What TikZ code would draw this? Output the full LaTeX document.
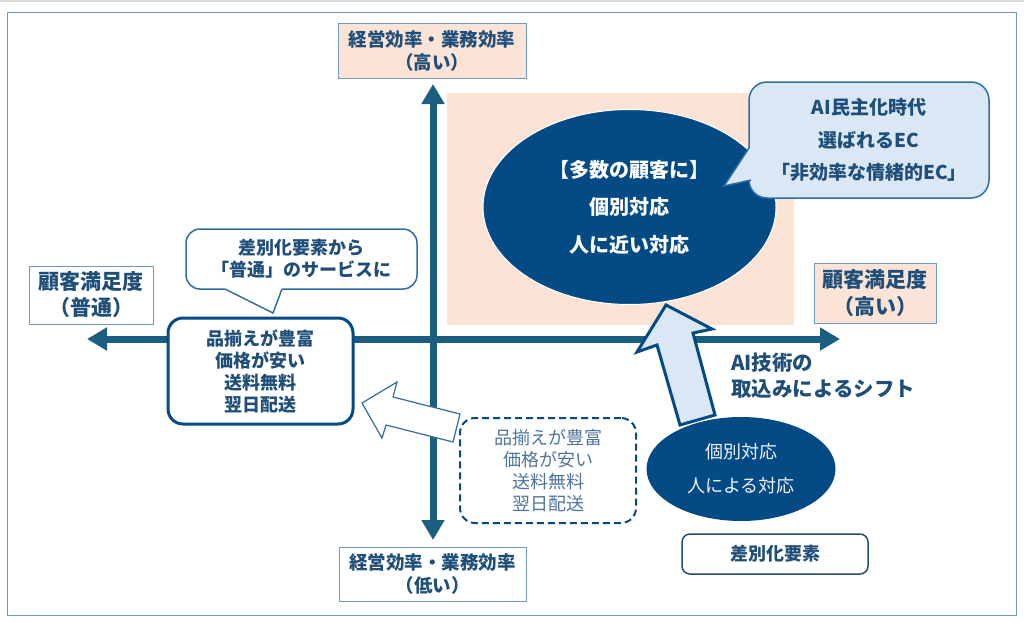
\documentclass[tikz,border=0pt]{standalone}
\usepackage{fontspec}
\setmainfont{Noto Sans CJK JP}
\usetikzlibrary{calc,positioning,arrows.meta,shapes.geometric}
\definecolor{axisblue}{RGB}{27,94,128}
\definecolor{navy}{RGB}{4,75,133}
\definecolor{textblue}{RGB}{31,78,121}
\definecolor{peach}{RGB}{251,228,214}
\definecolor{lightblue}{RGB}{218,232,245}
\definecolor{framecol}{RGB}{109,154,198}
\definecolor{lineblue}{RGB}{47,110,165}
\definecolor{mutedblue}{RGB}{78,116,156}

\begin{document}
\begin{tikzpicture}[x=1pt,y=-1pt,
  axis/.style={line width=7pt,draw=axisblue,{Triangle[length=20pt,width=22pt]}-{Triangle[length=20pt,width=22pt]}},
  labelbox/.style={draw=framecol,line width=1pt,text=textblue,align=center,inner sep=0pt,
    font=\fontsize{18.5}{23}\selectfont\bfseries},
  callout/.style={draw=lineblue,line width=1.5pt,rounded corners=14pt,text=textblue,align=center,inner sep=0pt},
  blockarrow/.style={draw=lineblue,line width=1.2pt,line join=miter}]
\useasboundingbox (0,0) rectangle (1024,621);
% frame and highlighted quadrant
\draw[black!15,line width=1.5pt] (0,0.75) -- (1024,0.75);
\draw[framecol,line width=1pt] (7,12) rectangle (1016,615);
\fill[peach] (447,93) rectangle (794,325);
% define axis end points
\coordinate (xlo) at (87,339);
\coordinate (xhi) at (840,339);
\coordinate (ylo) at (433,540);
\coordinate (yhi) at (433,84);
\draw[axis] (xlo) -- (xhi);
\draw[axis] (ylo) -- (yhi);
% axis labels
\node[labelbox,fill=peach,minimum width=188,minimum height=55] (effhigh) at (432,50.5) {経営効率・業務効率\\（高い）};
\node[labelbox,fill=white,minimum width=187,minimum height=54] (efflow) at (432.5,574) {経営効率・業務効率\\（低い）};
\node[labelbox,fill=white,minimum width=124,minimum height=58,font=\fontsize{21}{26}\selectfont\bfseries] (satnorm) at (91,295) {顧客満足度\\（普通）};
\node[labelbox,fill=peach,minimum width=122,minimum height=60,font=\fontsize{21}{27}\selectfont\bfseries] (sathigh) at (875,293) {顧客満足度\\（高い）};
% left side: common services
\node[draw=navy,line width=3pt,rounded corners=15pt,fill=white,minimum width=185,minimum height=106,
  align=center,inner sep=0pt,text=textblue,font=\fontsize{18}{22}\selectfont\bfseries] (common) at (260.5,371) {品揃えが豊富\\価格が安い\\送料無料\\翌日配送};
\node[draw=navy,line width=2pt,dash pattern=on 7pt off 4pt,rounded corners=15pt,minimum width=176,minimum height=105,
  align=center,inner sep=0pt,text=mutedblue,font=\fontsize{18}{22}\selectfont] (former) at (548,470.5) {品揃えが豊富\\価格が安い\\送料無料\\翌日配送};
\draw[blockarrow,fill=white] (362,403) -- (397,382) -- (393,397) -- (460,414) -- (453,442) -- (386,425) -- (382,438) -- cycle;
% callout above the left box
\node[callout,fill=white,minimum width=231,minimum height=60,font=\fontsize{18}{22}\selectfont\bfseries] (todefault) at (301.5,259) {差別化要素から\\「普通」のサービスに};
\fill[white] (225,289) -- (273,313) -- (282,289) -- (282,285) -- (225,285) -- cycle;
\draw[lineblue,line width=1.5pt,line join=miter] (225,289) -- (273,313) -- (282,289);
% ellipses
\node[ellipse,fill=navy,draw=white,line width=1pt,minimum width=293,minimum height=195,inner sep=0pt,
  align=center,text=white,font=\fontsize{20}{37.5}\selectfont\bfseries] (many) at (629.5,207) {【多数の顧客に】\\個別対応\\人に近い対応};
\node[ellipse,fill=navy,minimum width=189,minimum height=104,inner sep=0pt,
  align=center,text=black!10!blue!5!white,font=\fontsize{18}{34}\selectfont] (few) at (741,469) {個別対応\\人による対応};
\node[draw=textblue,line width=1.5pt,rounded corners=8pt,minimum width=186,minimum height=40,inner sep=0pt,
  text=textblue,font=\fontsize{18}{22}\selectfont\bfseries] (factor) at (775,554) {差別化要素};
% callout for the AI era
\node[callout,fill=lightblue,rounded corners=18pt,minimum width=240,minimum height=116,font=\fontsize{19}{32.5}\selectfont\bfseries] (aiera) at (869,140) {AI民主化時代\\選ばれるEC\\「非効率な情緒的EC」};
\fill[lightblue] (749,148) -- (724,186) -- (751,180) -- (754,180) -- (754,148) -- cycle;
\draw[lineblue,line width=1.5pt,line join=miter] (749,148) -- (724,186) -- (751,180);
% shift arrow
\draw[draw=navy,line width=3pt,fill=lightblue,line join=miter] (666,305) -- (712,329) -- (693,333) -- (715,415) -- (680,425) -- (657,345) -- (637,352) -- cycle;
\node[anchor=west,align=left,inner sep=0pt,text=textblue,font=\fontsize{20.5}{26}\selectfont\bfseries] (shift) at (731,376) {AI技術の\\取込みによるシフト};
\end{tikzpicture}
\end{document}
